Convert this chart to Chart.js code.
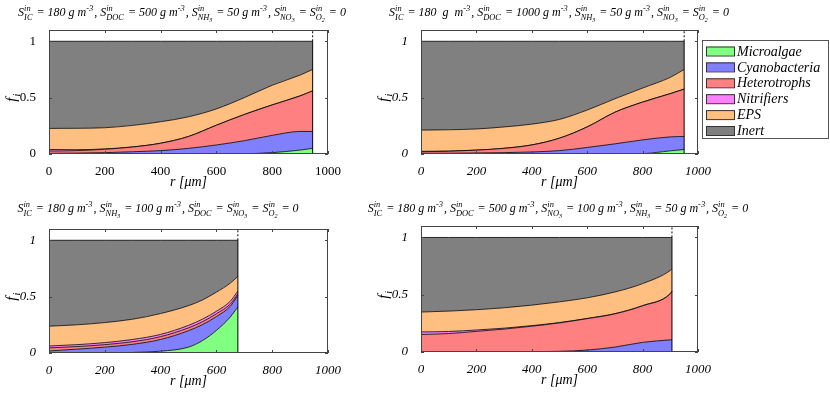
<!DOCTYPE html>
<html>
<head>
<meta charset="utf-8">
<script src="https://cdn.jsdelivr.net/npm/chart.js@4.4.0/dist/chart.umd.min.js"></script>
<style>
  body { margin: 0; background: #fff; width: 830px; height: 395px; position: relative; overflow: hidden; }
  canvas { position: absolute; }
</style>
</head>
<body>
<canvas id="p1"></canvas>
<canvas id="p2"></canvas>
<canvas id="p3"></canvas>
<canvas id="p4"></canvas>
<script>
// species (stack order, bottom to top)
const names = ['Microalgae', 'Cyanobacteria', 'Heterotrophs', 'Nitrifiers', 'EPS', 'Inert'];
const colors = ['#80ff80', '#8080ff', '#ff8080', '#ff80ff', '#ffbf80', '#808080'];
const yTicks = [0, 0.5, 1];

// panel 1: IC 180, DOC 500, NH3 50
const r1 = [0, 100, 200, 300, 400, 500, 600, 700, 800, 900, 945];
const micro1 = [0, 0, 0, 0, 0, 0, 0, 0.002, 0.012, 0.035, 0.05];
const cyano1 = [0.006, 0.008, 0.012, 0.02, 0.03, 0.05, 0.08, 0.116, 0.153, 0.165, 0.15];
const hetero1 = [0.02, 0.022, 0.03, 0.042, 0.065, 0.105, 0.175, 0.232, 0.27, 0.315, 0.36];
const nitri1 = [0.014, 0.008, 0.003, 0.001, 0.001, 0.001, 0.001, 0.001, 0.001, 0.001, 0.001];
const eps1 = [0.187, 0.19, 0.188, 0.191, 0.19, 0.174, 0.144, 0.149, 0.174, 0.184, 0.189];
const inert1 = [0.773, 0.772, 0.767, 0.746, 0.714, 0.67, 0.6, 0.5, 0.39, 0.3, 0.25];

// panel 2: IC 180, DOC 1000, NH3 50
const r2 = [0, 100, 200, 300, 400, 500, 600, 700, 800, 900, 950];
const micro2 = [0, 0, 0, 0, 0, 0, 0, 0, 0.003, 0.028, 0.04];
const cyano2 = [0.006, 0.007, 0.009, 0.012, 0.018, 0.03, 0.058, 0.09, 0.122, 0.124, 0.115];
const hetero2 = [0.014, 0.017, 0.025, 0.038, 0.062, 0.11, 0.182, 0.28, 0.335, 0.383, 0.42];
const nitri2 = [0.004, 0.002, 0.001, 0.001, 0.001, 0.001, 0.001, 0.001, 0.001, 0.001, 0.001];
const eps2 = [0.188, 0.189, 0.187, 0.189, 0.184, 0.166, 0.149, 0.119, 0.124, 0.144, 0.174];
const inert2 = [0.788, 0.785, 0.778, 0.76, 0.735, 0.693, 0.61, 0.51, 0.415, 0.32, 0.25];

// panel 3: IC 180, NH3 100
const r3 = [0, 100, 200, 300, 400, 500, 550, 600, 650, 677];
const micro3 = [0, 0, 0, 0.005, 0.016, 0.052, 0.11, 0.2, 0.32, 0.41];
const cyano3 = [0.018, 0.034, 0.052, 0.072, 0.104, 0.146, 0.142, 0.123, 0.095, 0.1];
const hetero3 = [0.027, 0.023, 0.022, 0.023, 0.025, 0.025, 0.025, 0.025, 0.02, 0.015];
const nitri3 = [0.017, 0.017, 0.018, 0.02, 0.02, 0.022, 0.023, 0.022, 0.025, 0.025];
const eps3 = [0.176, 0.176, 0.178, 0.18, 0.185, 0.175, 0.17, 0.17, 0.16, 0.13];
const inert3 = [0.762, 0.75, 0.73, 0.7, 0.65, 0.58, 0.53, 0.46, 0.38, 0.32];

// panel 4: IC 180, DOC 500, NO3 100, NH3 50
const r4 = [0, 100, 200, 300, 400, 500, 600, 700, 800, 900, 906];
const micro4 = [0, 0, 0, 0, 0, 0, 0, 0, 0, 0.001, 0.002];
const cyano4 = [0, 0, 0, 0, 0.003, 0.006, 0.017, 0.043, 0.084, 0.105, 0.105];
const hetero4 = [0.153, 0.161, 0.18, 0.2, 0.222, 0.248, 0.274, 0.29, 0.319, 0.402, 0.423];
const nitri4 = [0.022, 0.018, 0.012, 0.008, 0.005, 0.003, 0.002, 0.002, 0.002, 0.002, 0.002];
const eps4 = [0.174, 0.178, 0.177, 0.178, 0.179, 0.181, 0.18, 0.189, 0.192, 0.202, 0.194];
const inert4 = [0.651, 0.643, 0.631, 0.614, 0.591, 0.562, 0.527, 0.476, 0.403, 0.288, 0.274];

const SERIF = '"Liberation Serif", "Times New Roman", serif';

// S^{in}_{sub}
const S = (sub, sub2) => ({ sup: 'in', sub: sub, sub2: sub2 });
const m3 = { sup: '-3' };

const title1 = ['S', S('IC'), ' = 180 g m', m3, ', S', S('DOC'), ' = 500 g m', m3, ', S', S('NH', '3'),
  ' = 50 g m', m3, ', S', S('NO', '3'), ' = S', S('O', '2'), ' = 0'];
const title2 = ['S', S('IC'), ' = 180  g  m', m3, ', S', S('DOC'), ' = 1000 g m', m3, ', S', S('NH', '3'),
  ' = 50 g m', m3, ', S', S('NO', '3'), ' = S', S('O', '2'), ' = 0'];
const title3 = ['S', S('IC'), ' = 180 g m', m3, ', S', S('NH', '3'), ' = 100 g m', m3, ', S', S('DOC'),
  ' = S', S('NO', '3'), ' = S', S('O', '2'), ' = 0'];
const title4 = ['S', S('IC'), ' = 180 g m', m3, ', S', S('DOC'), ' = 500 g m', m3, ', S', S('NO', '3'),
  ' = 100 g m', m3, ', S', S('NH', '3'), ' = 50 g m', m3, ', S', S('O', '2'), ' = 0'];

// draws text with stacked super/subscripts; returns width
function rich(ctx, toks, x, y, size, draw) {
  let cx = x;
  const f = s => `italic ${s}px ${SERIF}`;
  for (const t of toks) {
    if (typeof t === 'string') {
      ctx.font = f(size);
      if (draw) ctx.fillText(t, cx, y);
      cx += ctx.measureText(t).width;
      continue;
    }
    const s = size * 0.7;
    ctx.font = f(s);
    let w1 = 0, w2 = 0;
    if (t.sup) {
      if (draw) ctx.fillText(t.sup, cx, y - size * 0.42);
      w1 = ctx.measureText(t.sup).width;
    }
    if (t.sub) {
      if (draw) ctx.fillText(t.sub, cx, y + size * 0.3);
      w2 = ctx.measureText(t.sub).width;
      if (t.sub2) {
        ctx.font = f(size * 0.5);
        if (draw) ctx.fillText(t.sub2, cx + w2, y + size * 0.52);
        w2 += ctx.measureText(t.sub2).width;
      }
    }
    cx += Math.max(w1, w2) + 1;
  }
  return cx - x;
}

function makePanel(id, box, pad, r, series, title, titlePos, italicTicks, legend) {
  const el = document.getElementById(id);
  const left = box.l - pad.l, top = box.t - pad.t;
  el.width = box.r - box.l + pad.l + pad.r;
  el.height = box.b - box.t + pad.t + pad.b;
  el.style.left = left + 'px';
  el.style.top = top + 'px';

  const datasets = series.map((vals, i) => ({
    label: names[i],
    data: r.map((x, k) => ({ x: x, y: vals[k] })),
    backgroundColor: colors[i],
    borderColor: '#000',
    borderWidth: 0.8,
    fill: i === 0 ? 'origin' : '-1',
    cubicInterpolationMode: 'monotone',
    pointRadius: 0,
    order: 1
  }));
  const L = r[r.length - 1];
  datasets.push({
    label: 'edge', stack: 'e1', order: 0, data: [{ x: L, y: 0 }, { x: L, y: 1 }],
    borderColor: '#000', borderWidth: 1, pointRadius: 0, fill: false
  });
  datasets.push({
    label: 'thickness', stack: 'e2', order: 0, data: [{ x: L, y: 1 }, { x: L, y: 1.1 }],
    borderColor: '#000', borderWidth: 1, borderDash: [2, 2], pointRadius: 0, fill: false
  });

  const tickFont = { family: SERIF, size: 13, style: italicTicks ? 'italic' : 'normal' };

  const deco = {
    id: 'deco',
    afterDraw(chart) {
      const ctx = chart.ctx, a = chart.chartArea;
      const xs = chart.scales.x, ys = chart.scales.y;
      ctx.save();
      ctx.strokeStyle = '#444';
      ctx.lineWidth = 1;
      ctx.strokeRect(Math.round(a.left) + 0.5, Math.round(a.top) + 0.5,
        Math.round(a.right - a.left) - 1, Math.round(a.bottom - a.top) - 1);
      ctx.beginPath();
      xs.ticks.forEach(t => {
        const px = Math.round(xs.getPixelForValue(t.value)) + 0.5;
        ctx.moveTo(px, a.bottom); ctx.lineTo(px, a.bottom - 3);
        ctx.moveTo(px, a.top); ctx.lineTo(px, a.top + 3);
      });
      ys.ticks.forEach(t => {
        const py = Math.round(ys.getPixelForValue(t.value)) + 0.5;
        ctx.moveTo(a.left, py); ctx.lineTo(a.left + 3, py);
        ctx.moveTo(a.right, py); ctx.lineTo(a.right - 3, py);
      });
      ctx.stroke();

      // y label f_i
      ctx.fillStyle = '#000';
      ctx.save();
      const cy = (ys.getPixelForValue(0) + ys.getPixelForValue(1)) / 2;
      ctx.translate(a.left - 38, cy);
      ctx.rotate(-Math.PI / 2);
      ctx.textBaseline = 'alphabetic';
      ctx.font = `italic 15px ${SERIF}`;
      const fw = ctx.measureText('f').width;
      ctx.fillText('f', -fw / 2 - 2, 5);
      ctx.font = `italic 10px ${SERIF}`;
      ctx.fillText('i', fw / 2 - 1, 9);
      ctx.restore();

      // title
      ctx.textBaseline = 'alphabetic';
      const tw = rich(ctx, title, 0, 0, titlePos.size, false);
      rich(ctx, title, titlePos.cx - left - tw / 2, titlePos.y - top, titlePos.size, true);

      if (legend) {
        const lx = legend.x - left, ly = legend.y - top;
        ctx.fillStyle = '#fff';
        ctx.fillRect(lx, ly, legend.w, legend.h);
        ctx.strokeStyle = '#555';
        ctx.strokeRect(lx + 0.5, ly + 0.5, legend.w - 1, legend.h - 1);
        ctx.font = `italic 14px ${SERIF}`;
        ctx.textBaseline = 'middle';
        chart.data.datasets.slice(0, names.length).forEach((ds, i) => {
          const yy = ly + 11 + i * 15.9;
          ctx.fillStyle = ds.backgroundColor;
          ctx.fillRect(lx + 4, yy - 4.5, 28, 9);
          ctx.strokeStyle = '#333';
          ctx.strokeRect(lx + 4.5, yy - 4, 28, 9);
          ctx.fillStyle = '#000';
          ctx.fillText(ds.label, lx + 35, yy + 1);
        });
      }
      ctx.restore();
    }
  };

  return new Chart(el, {
    type: 'line',
    data: { datasets: datasets },
    options: {
      responsive: false,
      animation: false,
      devicePixelRatio: 1,
      layout: { padding: { left: pad.l - 40, top: pad.t, right: pad.r, bottom: pad.b - 40 } },
      plugins: { legend: { display: false }, tooltip: { enabled: false } },
      scales: {
        x: {
          type: 'linear', min: 0, max: 1000,
          grid: { display: false }, border: { display: false },
          ticks: { stepSize: 200, padding: 2, color: '#000', font: tickFont, maxRotation: 0, callback: v => String(v) },
          title: { display: true, text: 'r [μm]', color: '#000', font: { family: SERIF, size: 14, style: 'italic' }, padding: { top: 0, bottom: 3 } },
          afterFit: s => { s.height = 40; }
        },
        y: {
          stacked: true, min: 0, max: 1.1,
          grid: { display: false }, border: { display: false },
          ticks: { padding: 5, color: '#000', font: tickFont, callback: v => String(v) },
          afterBuildTicks: s => { s.ticks = yTicks.map(v => ({ value: v })); },
          afterFit: s => { s.width = 40; }
        }
      }
    },
    plugins: [deco]
  });
}

makePanel('p1', { l: 49, t: 30, r: 328, b: 154 }, { l: 49, t: 30, r: 40, b: 40 }, r1,
  [micro1, cyano1, hetero1, nitri1, eps1, inert1], title1, { cx: 182, y: 16, size: 12 }, false, null);
makePanel('p2', { l: 421, t: 30, r: 698, b: 154 }, { l: 60, t: 30, r: 132, b: 40 }, r2,
  [micro2, cyano2, hetero2, nitri2, eps2, inert2], title2, { cx: 559, y: 16, size: 12 }, true,
  { x: 702, y: 40, w: 127, h: 99 });
makePanel('p3', { l: 49, t: 229, r: 328, b: 353 }, { l: 49, t: 34, r: 40, b: 42 }, r3,
  [micro3, cyano3, hetero3, nitri3, eps3, inert3], title3, { cx: 158, y: 212, size: 12 }, true, null);
makePanel('p4', { l: 421, t: 226, r: 698, b: 352 }, { l: 70, t: 31, r: 132, b: 43 }, r4,
  [micro4, cyano4, hetero4, nitri4, eps4, inert4], title4, { cx: 558, y: 212, size: 12 }, true, null);
</script>
</body>
</html>
